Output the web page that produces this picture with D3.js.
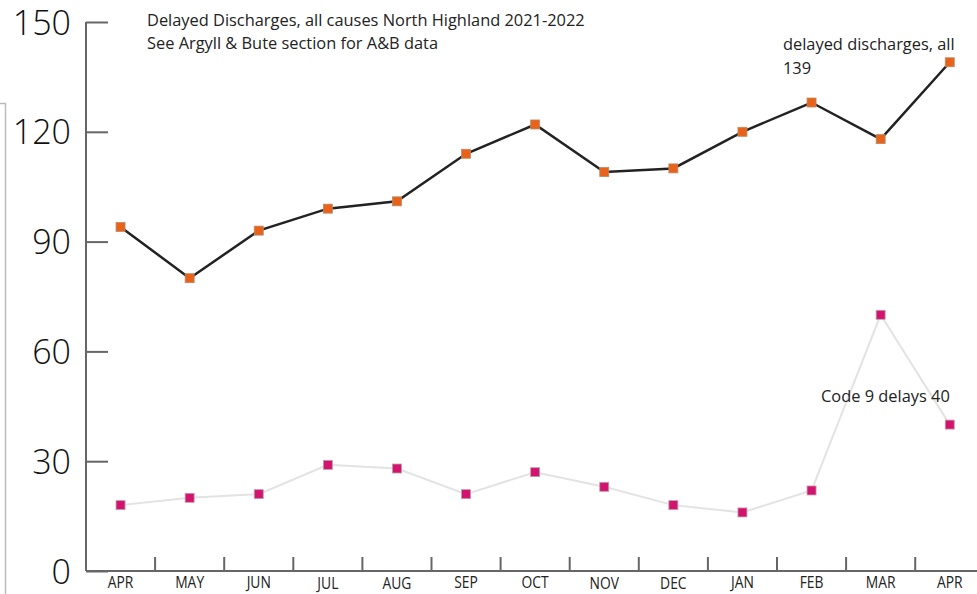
<!DOCTYPE html>
<html><head><meta charset="utf-8">
<script src="https://cdn.jsdelivr.net/npm/d3@7"></script>
<style>body{margin:0;background:#fff}svg{display:block}</style>
</head><body>
<script>
const months = ["APR","MAY","JUN","JUL","AUG","SEP","OCT","NOV","DEC","JAN","FEB","MAR","APR"];
const allDelays = [94,80,93,99,101,114,122,109,110,120,128,118,139];
const code9Delays = [18,20,21,29,28,21,27,23,18,16,22,70,40];
const yTicks = [0,30,60,90,120,150];
const titleLines = ["Delayed Discharges, all causes North Highland 2021-2022","See Argyll & Bute section for A&B data"];

const W=977,H=594;
const svg=d3.select("body").append("svg").attr("width",W).attr("height",H);
const idx=d3.range(months.length);
const x=d3.scaleBand().domain(idx).range([86,86+69.1*13]).padding(0);
const y=d3.scaleLinear().domain([0,150]).range([571,22]);
const cx=i=>x(i)+x.bandwidth()/2;

// left frame fragment
svg.append("path").attr("d","M0,103.5H5.5V594").attr("fill","none").attr("stroke","#bbb").attr("stroke-width",1.5);

// y axis
const yAxis=svg.append("g").attr("transform","translate(86,0)")
  .call(d3.axisRight(y).tickValues(yTicks).tickSize(22).tickFormat(""));
yAxis.select(".domain").attr("stroke","#666").attr("stroke-width",2).attr("d","M0,22V571");
yAxis.selectAll(".tick line").attr("stroke","#666").attr("stroke-width",2);
svg.append("g").selectAll("text").data(yTicks).join("text")
  .attr("x",71).attr("y",d=>y(d)).attr("dy","0.37em").attr("text-anchor","end")
  .attr("font-family","Open Sans").attr("font-weight",300).attr("font-size",34).attr("fill","#111")
  .text(d=>d);

// x axis
const xAxis=svg.append("g").attr("transform","translate(0,571)")
  .call(d3.axisTop(x).tickValues(idx.slice(1)).tickSize(14).tickFormat(""));
xAxis.select(".domain").attr("stroke","#666").attr("stroke-width",2).attr("d","M86,0H977");
xAxis.selectAll(".tick").attr("transform",d=>`translate(${x(d)},0)`);
xAxis.selectAll(".tick line").attr("stroke","#666").attr("stroke-width",2);
svg.append("g").selectAll("text").data(months).join("text")
  .attr("x",(d,i)=>cx(i)).attr("y",(d,i)=>[3,4,7,8].includes(i)?589:588).attr("text-anchor","middle")
  .attr("font-family","Open Sans").attr("font-size",16.5).attr("fill","#222")
  .attr("transform",(d,i)=>`translate(${cx(i)},0) scale(0.84,1) translate(${-cx(i)},0)`)
  .text(d=>d);

// code 9 series
const line=d3.line().x((d,i)=>cx(i)).y(d=>y(d));
svg.append("path").datum(code9Delays).attr("d",line).attr("fill","none").attr("stroke","#e3e3e3").attr("stroke-width",2);
svg.append("g").selectAll("rect").data(code9Delays).join("rect")
  .attr("x",(d,i)=>cx(i)-4.5).attr("y",d=>y(d)-4.5).attr("width",9).attr("height",9)
  .attr("fill","#d4136f").attr("stroke","#b9a0ad").attr("stroke-width",0.8);

// all delays series
svg.append("path").datum(allDelays).attr("d",line).attr("fill","none").attr("stroke","#222").attr("stroke-width",2.5);
svg.append("g").selectAll("rect").data(allDelays).join("rect")
  .attr("x",(d,i)=>cx(i)-4.5).attr("y",d=>y(d)-4.5).attr("width",9).attr("height",9)
  .attr("fill","#e8621a").attr("stroke","#b98a6a").attr("stroke-width",0.8);

// texts
const tf="Open Sans";
svg.append("g").selectAll("text").data(titleLines).join("text")
  .attr("x",147).attr("y",(d,i)=>26+i*23).attr("font-family",tf).attr("font-size",17).attr("fill","#222")
  .attr("transform","translate(147,0) scale(0.965,1) translate(-147,0)")
  .text(d=>d);
const ann=[{t:"delayed discharges, all",x:783,y:50},{t:"139",x:783,y:74},{t:"Code 9 delays 40",x:821,y:402}];
svg.append("g").selectAll("text").data(ann).join("text")
  .attr("x",d=>d.x).attr("y",d=>d.y).attr("font-family",tf).attr("font-size",17).attr("fill","#222")
  .attr("transform",d=>`translate(${d.x},0) scale(0.965,1) translate(${-d.x},0)`)
  .text(d=>d.t);
</script>
</body></html>
